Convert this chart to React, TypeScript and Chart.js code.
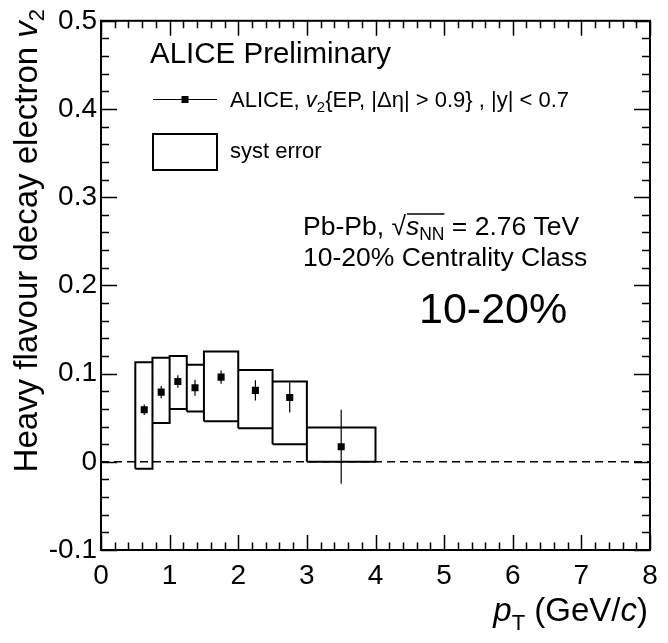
import React, { useEffect, useRef } from "react";
import { Chart, registerables } from "chart.js";

Chart.register(...registerables);

// ---- data ----
const binLow = [0.5, 0.75, 1.0, 1.25, 1.5, 2.0, 2.5, 3.0];
const binHigh = [0.75, 1.0, 1.25, 1.5, 2.0, 2.5, 3.0, 4.0];
const ptCenters = [0.63, 0.877, 1.12, 1.37, 1.75, 2.25, 2.75, 3.5];
const v2Values = [0.059, 0.079, 0.091, 0.084, 0.096, 0.081, 0.073, 0.017];
const statErr = [0.006, 0.007, 0.007, 0.009, 0.0075, 0.0115, 0.017, 0.042];
const systLow = [-0.008, 0.044, 0.06, 0.057, 0.046, 0.038, 0.02, 0.0];
const systHigh = [0.113, 0.118, 0.12, 0.11, 0.125, 0.104, 0.091, 0.039];
const zeroLineX = [0, 8];
const xRange = [0, 8];
const yRange = [-0.1, 0.5];
const xMajorStep = 1;
const xMinorStep = 0.2;
const yMajorStep = 0.1;
const yMinorStep = 0.02;

const FONT = "'Liberation Sans', Arial, Helvetica, sans-serif";

type Run = { t: string; size: number; italic?: boolean; dy?: number };

function runsWidth(ctx: CanvasRenderingContext2D, runs: Run[]) {
  let w = 0;
  for (const r of runs) {
    ctx.font = `${r.italic ? "italic " : ""}${r.size}px ${FONT}`;
    w += ctx.measureText(r.t).width;
  }
  return w;
}

function drawRuns(ctx: CanvasRenderingContext2D, runs: Run[], x: number, y: number) {
  let cx = x;
  const pos: number[] = [];
  ctx.textBaseline = "alphabetic";
  ctx.textAlign = "left";
  for (const r of runs) {
    ctx.font = `${r.italic ? "italic " : ""}${r.size}px ${FONT}`;
    pos.push(cx);
    ctx.fillText(r.t, cx, y + (r.dy || 0));
    cx += ctx.measureText(r.t).width;
  }
  pos.push(cx);
  return pos;
}

const framePlugin = {
  id: "rootFrame",
  afterDraw(chart: any) {
    const ctx: CanvasRenderingContext2D = chart.ctx;
    const xs = chart.scales.x;
    const ys = chart.scales.y;
    const { left, right, top, bottom } = chart.chartArea;
    ctx.save();
    ctx.strokeStyle = "#000";
    ctx.fillStyle = "#000";

    // ticks (inward, all four sides)
    ctx.lineWidth = 1.5;
    ctx.beginPath();
    const nx = Math.round((xRange[1] - xRange[0]) / xMinorStep);
    for (let i = 0; i <= nx; i++) {
      const v = xRange[0] + i * xMinorStep;
      const major = Math.abs(v / xMajorStep - Math.round(v / xMajorStep)) < 1e-6;
      const len = major ? 15 : 7.5;
      const px = Math.round(xs.getPixelForValue(v)) + 0.5;
      ctx.moveTo(px, bottom);
      ctx.lineTo(px, bottom - len);
      ctx.moveTo(px, top);
      ctx.lineTo(px, top + len);
    }
    const ny = Math.round((yRange[1] - yRange[0]) / yMinorStep);
    for (let i = 0; i <= ny; i++) {
      const v = yRange[0] + i * yMinorStep;
      const major = Math.abs(v / yMajorStep - Math.round(v / yMajorStep)) < 1e-6;
      const len = major ? 16 : 8;
      const py = Math.round(ys.getPixelForValue(v)) + 0.5;
      ctx.moveTo(left, py);
      ctx.lineTo(left + len, py);
      ctx.moveTo(right, py);
      ctx.lineTo(right - len, py);
    }
    ctx.stroke();

    // frame
    ctx.lineWidth = 2;
    ctx.strokeRect(left, top, right - left, bottom - top);

    // y axis title (rotated)
    const yTitle: Run[] = [
      { t: "Heavy flavour decay electron ", size: 33 },
      { t: "v", size: 33, italic: true },
      { t: "2", size: 22, dy: 7 },
    ];
    ctx.save();
    ctx.translate(37, 9);
    ctx.rotate(-Math.PI / 2);
    const wy = runsWidth(ctx, yTitle);
    drawRuns(ctx, yTitle, -wy, 0);
    ctx.restore();

    // x axis title (right aligned)
    const xTitle: Run[] = [
      { t: "p", size: 33, italic: true },
      { t: "T", size: 22, dy: 9 },
      { t: " (GeV/", size: 33 },
      { t: "c", size: 33, italic: true },
      { t: ")", size: 33 },
    ];
    const wx = runsWidth(ctx, xTitle);
    drawRuns(ctx, xTitle, right - 2 - wx, 621);

    // ALICE Preliminary
    drawRuns(ctx, [{ t: "ALICE Preliminary", size: 29.5 }], 150, 63);

    // legend entry 1: marker with line
    ctx.lineWidth = 1.2;
    ctx.beginPath();
    ctx.moveTo(153, 99.5);
    ctx.lineTo(217, 99.5);
    ctx.stroke();
    ctx.fillRect(181.5, 96, 7, 7);
    drawRuns(
      ctx,
      [
        { t: "ALICE, ", size: 22 },
        { t: "v", size: 22, italic: true },
        { t: "2", size: 15, dy: 5 },
        { t: "{EP, |\u0394\u03b7| > 0.9} , |y| < 0.7", size: 22 },
      ],
      230,
      107
    );

    // legend entry 2: syst box
    ctx.lineWidth = 2;
    ctx.strokeRect(153, 134, 64, 36);
    drawRuns(ctx, [{ t: "syst error", size: 22 }], 230, 158);

    // Pb-Pb line
    const pos = drawRuns(
      ctx,
      [
        { t: "Pb-Pb, ", size: 26.5 },
        { t: "\u221a", size: 26.5 },
        { t: "s", size: 26.5, italic: true },
        { t: "NN", size: 17.5, dy: 5 },
        { t: " = 2.76 TeV", size: 26.5 },
      ],
      303,
      235
    );
    ctx.lineWidth = 1.3;
    ctx.beginPath();
    ctx.moveTo(pos[2] + 1, 235 - 21);
    ctx.lineTo(pos[4], 235 - 21);
    ctx.stroke();

    drawRuns(ctx, [{ t: "10-20% Centrality Class", size: 26.5 }], 303, 266);
    drawRuns(ctx, [{ t: "10-20%", size: 43 }], 419, 323);

    ctx.restore();
  },
};

export default function App() {
  const ref = useRef<HTMLCanvasElement | null>(null);

  useEffect(() => {
    if (!ref.current) return;

    const boxData: any[] = [];
    binLow.forEach((lo, i) => {
      const hi = binHigh[i];
      boxData.push(
        { x: lo, y: systLow[i] },
        { x: hi, y: systLow[i] },
        { x: hi, y: systHigh[i] },
        { x: lo, y: systHigh[i] },
        { x: lo, y: systLow[i] },
        { x: lo, y: null }
      );
    });
    const errData: any[] = [];
    ptCenters.forEach((x, i) => {
      errData.push(
        { x, y: v2Values[i] - statErr[i] },
        { x, y: v2Values[i] + statErr[i] },
        { x, y: null }
      );
    });
    const pointData = ptCenters.map((x, i) => ({ x, y: v2Values[i] }));
    const zeroData = zeroLineX.map((x) => ({ x, y: 0 }));

    const chart = new Chart(ref.current, {
      type: "scatter",
      data: {
        datasets: [
          {
            label: "ALICE",
            data: pointData,
            pointStyle: "rect",
            pointRadius: 5,
            pointHoverRadius: 5,
            backgroundColor: "#000",
            borderColor: "#000",
            borderWidth: 0,
            showLine: false,
            order: 0,
          },
          {
            label: "stat",
            data: errData,
            showLine: true,
            spanGaps: false,
            borderColor: "#000",
            borderWidth: 1.2,
            pointRadius: 0,
            order: 1,
          },
          {
            label: "syst error",
            data: boxData,
            showLine: true,
            spanGaps: false,
            borderColor: "#000",
            borderWidth: 2,
            pointRadius: 0,
            fill: false,
            order: 2,
          },
          {
            label: "zero",
            data: zeroData,
            showLine: true,
            borderColor: "#000",
            borderWidth: 1.5,
            borderDash: [8, 5],
            pointRadius: 0,
            order: 3,
          },
        ],
      },
      options: {
        animation: false,
        responsive: false,
        devicePixelRatio: 1,
        layout: { padding: { top: 18, right: 18, left: 0, bottom: 0 } },
        plugins: {
          legend: { display: false },
          tooltip: { enabled: false },
          title: { display: false },
        },
        scales: {
          x: {
            type: "linear",
            min: xRange[0],
            max: xRange[1],
            grid: { display: false, drawTicks: false },
            border: { display: false },
            afterFit: (s: any) => {
              s.height = 93;
            },
            ticks: {
              stepSize: xMajorStep,
              autoSkip: false,
              maxRotation: 0,
              padding: 9,
              color: "#000",
              font: { family: FONT, size: 28 },
              callback: (v: any) => String(Math.round(Number(v))),
            },
          },
          y: {
            type: "linear",
            min: yRange[0],
            max: yRange[1],
            grid: { display: false, drawTicks: false },
            border: { display: false },
            afterFit: (s: any) => {
              s.width = 101;
            },
            ticks: {
              stepSize: yMajorStep,
              autoSkip: false,
              padding: 4,
              color: "#000",
              font: { family: FONT, size: 28 },
              callback: (v: any) => {
                const n = Number(v);
                if (Math.abs(n) < 1e-9) return "0";
                return n.toFixed(1);
              },
            },
          },
        },
      },
      plugins: [framePlugin],
    } as any);

    return () => chart.destroy();
  }, []);

  return (
    <div style={{ position: "absolute", left: 0, top: 0, width: 668, height: 643, background: "#fff" }}>
      <canvas ref={ref} width={668} height={643} style={{ width: 668, height: 643, display: "block" }} />
    </div>
  );
}
